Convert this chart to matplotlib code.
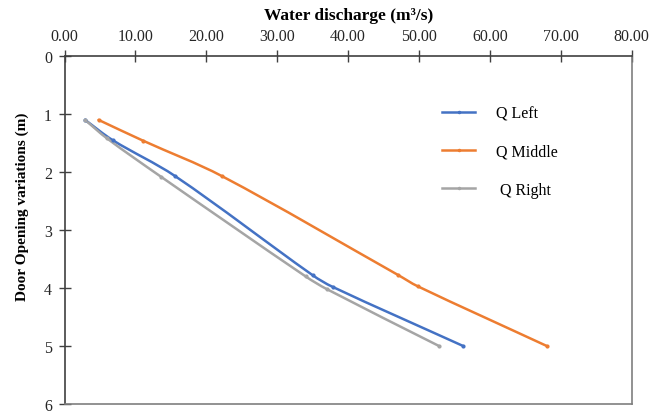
import matplotlib
matplotlib.use("Agg")
import matplotlib.pyplot as plt
import numpy as np
from matplotlib.path import Path
from matplotlib.patches import PathPatch
from matplotlib.lines import Line2D

plt.rcParams['font.family'] = ['Liberation Serif', 'DejaVu Serif']

left_q = [2.9, 6.8, 15.6, 35.0, 37.8, 56.2]
left_h = [1.1, 1.45, 2.07, 3.78, 3.98, 5.0]
mid_q = [4.8, 11.1, 22.2, 47.1, 49.8, 68.0]
mid_h = [1.1, 1.46, 2.07, 3.78, 3.97, 5.0]
right_q = [2.9, 6.0, 13.6, 34.0, 37.0, 52.8]
right_h = [1.1, 1.42, 2.08, 3.80, 4.02, 5.0]

x_ticks = [0, 10, 20, 30, 40, 50, 60, 70, 80]
y_ticks = [0, 1, 2, 3, 4, 5, 6]

series = [
    (left_q, left_h, '#4472C4', 'Q Left'),
    (mid_q, mid_h, '#ED7D31', 'Q Middle'),
    (right_q, right_h, '#A5A5A5', ' Q Right'),
]

# aspect factors (px per data unit) only used to shape the smooth stroke
SX, SY = 7.07, 58.0


def smooth_path(xs, ys):
    P = np.column_stack([np.asarray(xs) * SX, np.asarray(ys) * SY])
    n = len(P)
    T = []
    for i in range(n):
        a = P[max(i - 1, 0)]
        b = P[min(i + 1, n - 1)]
        d = b - a
        T.append(d / np.hypot(*d))
    verts = [P[0]]
    codes = [Path.MOVETO]
    for i in range(n - 1):
        L = np.hypot(*(P[i + 1] - P[i]))
        verts += [P[i] + T[i] * L / 3, P[i + 1] - T[i + 1] * L / 3, P[i + 1]]
        codes += [Path.CURVE4] * 3
    V = np.array(verts) / np.array([SX, SY])
    return Path(V, codes)


fig = plt.figure(figsize=(6.65, 4.14), dpi=100)
ax = fig.add_axes([0.097, 0.022, 0.853, 0.840])

handles = []
for xs, ys, col, lab in series:
    ax.add_patch(PathPatch(smooth_path(xs, ys), facecolor='none', edgecolor=col,
                           lw=1.8, capstyle='round', joinstyle='round'))
    ax.plot(xs, ys, linestyle='none', color=col, marker='o', ms=2)
    handles.append(Line2D([], [], color=col, lw=1.8, marker='o', ms=1.5, label=lab))

ax.set_xlim(0, 80)
ax.set_ylim(6, 0)
ax.set_xticks(x_ticks)
ax.set_xticklabels([f"{v:.2f}" for v in x_ticks])
ax.set_yticks(y_ticks)
ax.xaxis.tick_top()
ax.xaxis.set_label_position('top')
ax.tick_params(axis='both', direction='inout', length=8, width=1, labelsize=11.5,
               colors='#404040', labelcolor='#262626')
ax.tick_params(axis='x', pad=5)
ax.tick_params(axis='y', pad=5)
for s in ['left', 'top']:
    ax.spines[s].set_color('#404040')
    ax.spines[s].set_linewidth(1.2)
for s in ['right', 'bottom']:
    ax.spines[s].set_color('#7f7f7f')
    ax.spines[s].set_linewidth(1.2)

ax.set_xlabel('Water discharge (m³/s)', fontsize=12.5, fontweight='bold', labelpad=6)
ax.set_ylabel('Door Opening variations (m)', fontsize=11, fontweight='bold')
ax.yaxis.set_label_coords(-0.062, 0.57)

leg = ax.legend(handles=handles, loc='upper left', bbox_to_anchor=(0.64, 0.90), frameon=False,
                fontsize=11.5, labelspacing=1.4, handlelength=2.1, handletextpad=1.3)

fig.savefig('out.png', dpi=100)
